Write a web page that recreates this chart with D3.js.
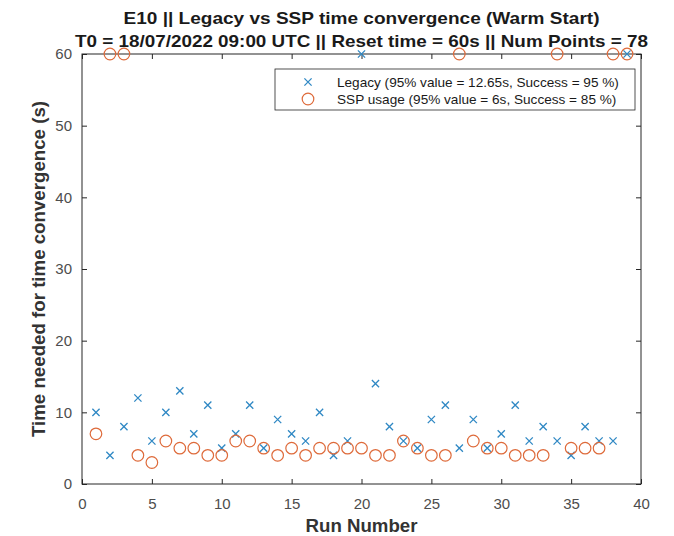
<!DOCTYPE html>
<html>
<head>
<meta charset="utf-8">
<script src="https://cdn.jsdelivr.net/npm/d3@7"></script>
<style>
  html, body { margin: 0; padding: 0; background: #fff; }
  svg { display: block; font-family: "Liberation Sans", Arial, sans-serif; }
</style>
</head>
<body>
<div id="chart"></div>
<script>
// run numbers 1..39
const runs = [1, 2, 3, 4, 5, 6, 7, 8, 9, 10, 11, 12, 13, 14, 15, 16, 17, 18, 19, 20,
  21, 22, 23, 24, 25, 26, 27, 28, 29, 30, 31, 32, 33, 34, 35, 36, 37, 38, 39];

const legacyTimes = [10, 4, 8, 12, 6, 10, 13, 7, 11, 5, 7, 11, 5, 9, 7, 6, 10, 4, 6, 60,
  14, 8, 6, 5, 9, 11, 5, 9, 5, 7, 11, 6, 8, 6, 4, 8, 6, 6, 60];

const sspTimes = [7, 60, 60, 4, 3, 6, 5, 5, 4, 4, 6, 6, 5, 4, 5, 4, 5, 5, 5, 5,
  4, 4, 6, 5, 4, 4, 60, 6, 5, 5, 4, 4, 4, 60, 5, 5, 5, 60, 60];

const xTicks = [0, 5, 10, 15, 20, 25, 30, 35, 40];
const yTicks = [0, 10, 20, 30, 40, 50, 60];

const titleLines = [
  "E10 || Legacy vs SSP time convergence (Warm Start)",
  "T0 = 18/07/2022 09:00 UTC || Reset time = 60s || Num Points = 78",
];
const legendLabels = [
  "Legacy (95% value = 12.65s, Success = 95 %)",
  "SSP usage (95% value = 6s, Success = 85 %)",
];

const width = 674, height = 536;
const margin = { top: 54, right: 33, bottom: 52, left: 82 };
const innerW = width - margin.left - margin.right;
const innerH = height - margin.top - margin.bottom;

const blue = "#2f88c4";
const orange = "#de6a3a";
const axisCol = "#262626";
const labelCol = "#4d4d4d";

const svg = d3.select("#chart").append("svg")
  .attr("width", width)
  .attr("height", height);

const x = d3.scaleLinear().domain([0, 40]).range([0, innerW]);
const y = d3.scaleLinear().domain([0, 60]).range([innerH, 0]);

const g = svg.append("g").attr("transform", `translate(${margin.left},${margin.top})`);

// box
g.append("rect")
  .attr("width", innerW)
  .attr("height", innerH)
  .attr("fill", "none")
  .attr("stroke", axisCol)
  .attr("stroke-width", 1);

// bottom axis, ticks inside
const xAxis = g.append("g")
  .attr("transform", `translate(0,${innerH})`)
  .call(d3.axisBottom(x).tickValues(xTicks).tickSizeInner(-5).tickSizeOuter(0).tickPadding(14));
xAxis.select(".domain").remove();
xAxis.selectAll("line").attr("stroke", axisCol);
xAxis.selectAll("text").attr("fill", labelCol).style("font-size", "15px");

const xTop = g.append("g")
  .call(d3.axisTop(x).tickValues(xTicks).tickSizeInner(-5).tickSizeOuter(0).tickFormat(""));
xTop.select(".domain").remove();
xTop.selectAll("line").attr("stroke", axisCol);

const yAxis = g.append("g")
  .call(d3.axisLeft(y).tickValues(yTicks).tickSizeInner(-5).tickSizeOuter(0).tickPadding(10));
yAxis.select(".domain").remove();
yAxis.selectAll("line").attr("stroke", axisCol);
yAxis.selectAll("text").attr("fill", labelCol).style("font-size", "15px");

const yRight = g.append("g")
  .attr("transform", `translate(${innerW},0)`)
  .call(d3.axisRight(y).tickValues(yTicks).tickSizeInner(-5).tickSizeOuter(0).tickFormat(""));
yRight.select(".domain").remove();
yRight.selectAll("line").attr("stroke", axisCol);

// markers
const crossPath = (s) => `M${-s},${-s}L${s},${s}M${-s},${s}L${s},${-s}`;

g.append("g").selectAll("path")
  .data(runs.map((r, i) => [r, legacyTimes[i]]))
  .join("path")
  .attr("transform", (d) => `translate(${x(d[0])},${y(d[1])})`)
  .attr("d", crossPath(3.6))
  .attr("stroke", blue)
  .attr("stroke-width", 1.3)
  .attr("fill", "none");

g.append("g").selectAll("circle")
  .data(runs.map((r, i) => [r, sspTimes[i]]))
  .join("circle")
  .attr("cx", (d) => x(d[0]))
  .attr("cy", (d) => y(d[1]))
  .attr("r", 5.8)
  .attr("stroke", orange)
  .attr("stroke-width", 1.2)
  .attr("fill", "none");

// legend (outer box 275..635 x 69..110)
const legend = svg.append("g").attr("transform", "translate(275,69)");
legend.append("rect")
  .attr("width", 360)
  .attr("height", 41)
  .attr("fill", "#fff")
  .attr("stroke", axisCol)
  .attr("stroke-width", 0.8);
legend.append("path")
  .attr("transform", "translate(33,13)")
  .attr("d", crossPath(3.6))
  .attr("stroke", blue)
  .attr("stroke-width", 1.3);
legend.append("circle")
  .attr("cx", 33)
  .attr("cy", 30)
  .attr("r", 5.8)
  .attr("stroke", orange)
  .attr("stroke-width", 1.2)
  .attr("fill", "none");
legend.selectAll("text.lbl")
  .data(legendLabels)
  .join("text")
  .attr("class", "lbl")
  .attr("x", 62)
  .attr("y", (d, i) => 13 + i * 17)
  .attr("dy", "0.35em")
  .attr("fill", "#1a1a1a")
  .style("font-size", "13.6px")
  .text((d) => d);

// titles
const titleWidths = [476, 573];
svg.selectAll("text.title")
  .data(titleLines)
  .join("text")
  .attr("class", "title")
  .attr("x", margin.left + innerW / 2)
  .attr("y", (d, i) => 18 + i * 23)
  .attr("dy", "0.35em")
  .attr("text-anchor", "middle")
  .attr("fill", "#1a1a1a")
  .attr("textLength", (d, i) => titleWidths[i])
  .attr("lengthAdjust", "spacingAndGlyphs")
  .style("font-size", "17px")
  .style("font-weight", "bold")
  .text((d) => d);

svg.append("text")
  .attr("x", margin.left + innerW / 2)
  .attr("y", 526)
  .attr("dy", "0.35em")
  .attr("text-anchor", "middle")
  .attr("fill", "#333")
  .attr("textLength", 112)
  .attr("lengthAdjust", "spacingAndGlyphs")
  .style("font-size", "17.5px")
  .style("font-weight", "bold")
  .text("Run Number");

svg.append("text")
  .attr("transform", `translate(39,${margin.top + innerH / 2}) rotate(-90)`)
  .attr("dy", "0.35em")
  .attr("text-anchor", "middle")
  .attr("fill", "#333")
  .attr("textLength", 336)
  .attr("lengthAdjust", "spacingAndGlyphs")
  .style("font-size", "17.5px")
  .style("font-weight", "bold")
  .text("Time needed for time convergence (s)");
</script>
</body>
</html>
